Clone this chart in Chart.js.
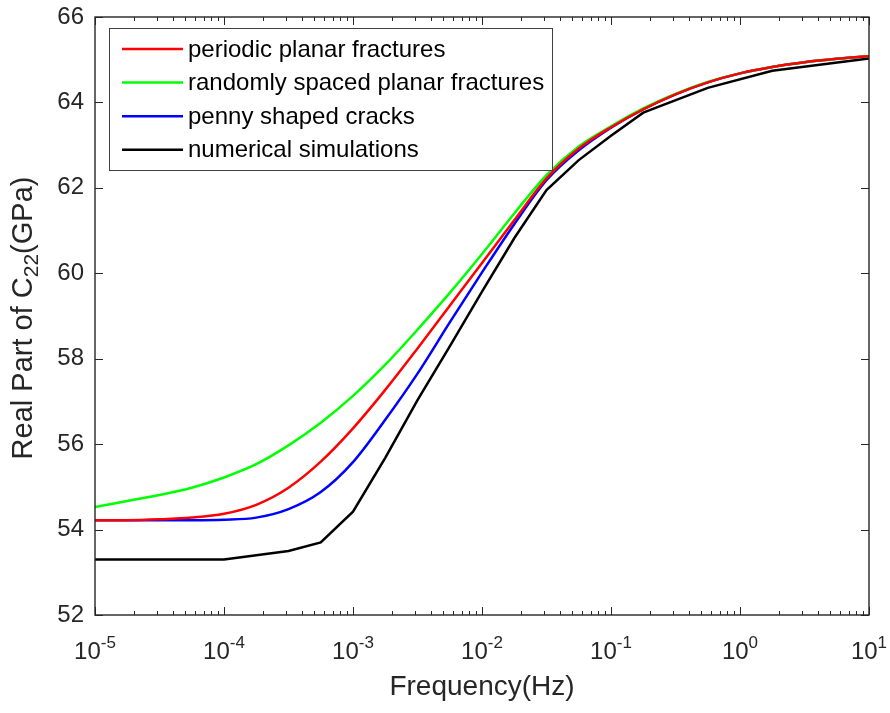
<!DOCTYPE html>
<html>
<head>
<meta charset="utf-8">
<script src="https://cdn.jsdelivr.net/npm/chart.js@4.4.1/dist/chart.umd.min.js"></script>
<style>
  html, body { margin: 0; padding: 0; background: #fff; }
</style>
</head>
<body>
<canvas id="Chart" width="890" height="713"></canvas>
<script>
// frequencies (Hz) for the analytical curves, quarter decades
const freq = [1e-5, 1.778e-5, 3.162e-5, 5.623e-5, 1e-4, 1.778e-4, 3.162e-4, 5.623e-4,
  1e-3, 1.778e-3, 3.162e-3, 5.623e-3, 1e-2, 1.778e-2, 3.162e-2, 5.623e-2,
  1e-1, 1.778e-1, 3.162e-1, 5.623e-1, 1, 1.778, 3.162, 5.623, 10];
const periodic = [54.22, 54.22, 54.24, 54.28, 54.37, 54.58, 54.98, 55.59,
  56.37, 57.27, 58.24, 59.24, 60.24, 61.24, 62.22, 62.92,
  63.42, 63.84, 64.19, 64.47, 64.68, 64.83, 64.94, 65.02, 65.08];
const randomSpaced = [54.53, 54.67, 54.81, 54.98, 55.22, 55.53, 55.97, 56.50,
  57.13, 57.86, 58.68, 59.54, 60.45, 61.40, 62.30, 62.97,
  63.44, 63.86, 64.20, 64.48, 64.68, 64.83, 64.94, 65.02, 65.08];
const penny = [54.22, 54.22, 54.22, 54.22, 54.23, 54.28, 54.48, 54.88,
  55.58, 56.57, 57.65, 58.85, 60.02, 61.15, 62.18, 62.88,
  63.41, 63.84, 64.19, 64.47, 64.68, 64.83, 64.94, 65.02, 65.08];

// numerical simulation points
const simFreq = [1e-5, 1e-4, 3.162e-4, 5.623e-4, 1e-3, 1.778e-3, 3.162e-3, 5.623e-3,
  1e-2, 1.778e-2, 3.162e-2, 5.623e-2, 1e-1, 1.778e-1, 5.623e-1, 1.778, 10];
const simulated = [53.30, 53.30, 53.50, 53.70, 54.42, 55.68, 57.03, 58.29,
  59.57, 60.82, 61.95, 62.65, 63.22, 63.76, 64.34, 64.74, 65.03];

const seriesNames = ["periodic planar fractures", "randomly spaced planar fractures",
  "penny shaped cracks", "numerical simulations"];
const seriesColors = ["#ff0000", "#00ff00", "#0000ff", "#000000"];
const xExponents = [-5, -4, -3, -2, -1, 0, 1];

const FONT = "'Liberation Sans', Arial, Helvetica, sans-serif";
const TXT = "#262626";

const toPoints = (xs, ys) => xs.map((f, i) => ({ x: f, y: ys[i] }));

const makeDataset = (i, xs, ys, smooth) => ({
  label: seriesNames[i],
  data: toPoints(xs, ys),
  borderColor: seriesColors[i],
  backgroundColor: seriesColors[i],
  borderWidth: 2.5,
  pointRadius: 0,
  fill: false,
  tension: 0,
  cubicInterpolationMode: smooth ? "monotone" : "default",
});

// frame, inward ticks, labels with super/subscripts and the boxed legend
const matlabAxes = {
  id: "matlabAxes",
  afterDatasetsDraw(chart) {
    const { ctx, chartArea: a, scales } = chart;
    const xs = scales.x, ys = scales.y;
    ctx.save();
    ctx.strokeStyle = TXT;
    ctx.lineWidth = 1;
    ctx.beginPath();
    xExponents.forEach((e) => {
      for (let k = 1; k <= 9; k++) {
        const v = k * Math.pow(10, e);
        if (v > 10.0001) break;
        const px = Math.round(xs.getPixelForValue(v)) + 0.5;
        const len = k === 1 ? 8 : 4;
        ctx.moveTo(px, a.bottom); ctx.lineTo(px, a.bottom - len);
        ctx.moveTo(px, a.top); ctx.lineTo(px, a.top + len);
      }
    });
    ys.ticks.forEach((t) => {
      const py = Math.round(ys.getPixelForValue(t.value)) + 0.5;
      ctx.moveTo(a.left, py); ctx.lineTo(a.left + 8, py);
      ctx.moveTo(a.right, py); ctx.lineTo(a.right - 8, py);
    });
    ctx.stroke();
    ctx.lineWidth = 1.4;
    ctx.strokeRect(a.left, a.top, a.right - a.left, a.bottom - a.top);

    // x tick labels 10^n
    ctx.fillStyle = TXT;
    ctx.textBaseline = "alphabetic";
    ctx.textAlign = "left";
    xExponents.forEach((e) => {
      const px = xs.getPixelForValue(Math.pow(10, e));
      ctx.font = "24px " + FONT;
      const wBase = ctx.measureText("10").width;
      ctx.font = "17px " + FONT;
      const sup = String(e);
      const wSup = ctx.measureText(sup).width;
      const x0 = px - (wBase + wSup) / 2;
      ctx.font = "24px " + FONT;
      ctx.fillText("10", x0, a.bottom + 44);
      ctx.font = "17px " + FONT;
      ctx.fillText(sup, x0 + wBase, a.bottom + 33);
    });

    // x axis title
    ctx.font = "28px " + FONT;
    ctx.textAlign = "center";
    ctx.fillText("Frequency(Hz)", (a.left + a.right) / 2, a.bottom + 80);

    // y axis title with subscript
    ctx.save();
    ctx.translate(32, (a.top + a.bottom) / 2 + 2);
    ctx.rotate(-Math.PI / 2);
    ctx.textAlign = "left";
    const p1 = "Real Part of C", p2 = "22", p3 = "(GPa)";
    ctx.font = "29px " + FONT;
    const w1 = ctx.measureText(p1).width, w3 = ctx.measureText(p3).width;
    ctx.font = "21px " + FONT;
    const w2 = ctx.measureText(p2).width;
    let cx = -(w1 + w2 + w3) / 2;
    ctx.font = "29px " + FONT;
    ctx.fillText(p1, cx, 0);
    cx += w1;
    ctx.font = "21px " + FONT;
    ctx.fillText(p2, cx, 6);
    cx += w2;
    ctx.font = "29px " + FONT;
    ctx.fillText(p3, cx, 0);
    ctx.restore();

    // legend box in the upper left corner
    const lx = a.left + 14, ly = a.top + 11, lw = 443, lh = 142;
    ctx.fillStyle = "#ffffff";
    ctx.fillRect(lx, ly, lw, lh);
    ctx.strokeStyle = "#404040";
    ctx.lineWidth = 1;
    ctx.strokeRect(lx + 0.5, ly + 0.5, lw, lh);
    ctx.font = "24px " + FONT;
    ctx.textAlign = "left";
    ctx.textBaseline = "middle";
    chart.data.datasets.forEach((ds, i) => {
      const ry = ly + 21 + i * 33.6;
      ctx.strokeStyle = ds.borderColor;
      ctx.lineWidth = 2.5;
      ctx.beginPath();
      ctx.moveTo(lx + 13, ry);
      ctx.lineTo(lx + 74, ry);
      ctx.stroke();
      ctx.fillStyle = "#000000";
      ctx.fillText(ds.label, lx + 79, ry + 1);
    });
    ctx.restore();
  },
};

const ctx = document.getElementById("Chart").getContext("2d");
new Chart(ctx, {
  type: "line",
  data: {
    datasets: [
      makeDataset(0, freq, periodic, true),
      makeDataset(1, freq, randomSpaced, true),
      makeDataset(2, freq, penny, true),
      makeDataset(3, simFreq, simulated, false),
    ],
  },
  options: {
    responsive: false,
    animation: false,
    devicePixelRatio: 1,
    layout: { padding: { left: 0, top: 17, right: 21, bottom: 0 } },
    plugins: { legend: { display: false }, tooltip: { enabled: false } },
    scales: {
      x: {
        type: "logarithmic",
        min: 1e-5,
        max: 10,
        grid: { display: false, drawTicks: false },
        border: { display: false },
        ticks: { display: false },
        afterFit: (scale) => {
          scale.height = 98;
          scale.paddingLeft = 0;
          scale.paddingRight = 0;
        },
      },
      y: {
        type: "linear",
        min: 52,
        max: 66,
        grid: { display: false, drawTicks: false },
        border: { display: false },
        ticks: {
          stepSize: 2,
          padding: 11,
          color: TXT,
          font: { family: FONT, size: 24 },
        },
        afterFit: (scale) => {
          scale.width = 95;
          scale.paddingTop = 0;
          scale.paddingBottom = 0;
        },
      },
    },
  },
  plugins: [matlabAxes],
});
</script>
</body>
</html>
